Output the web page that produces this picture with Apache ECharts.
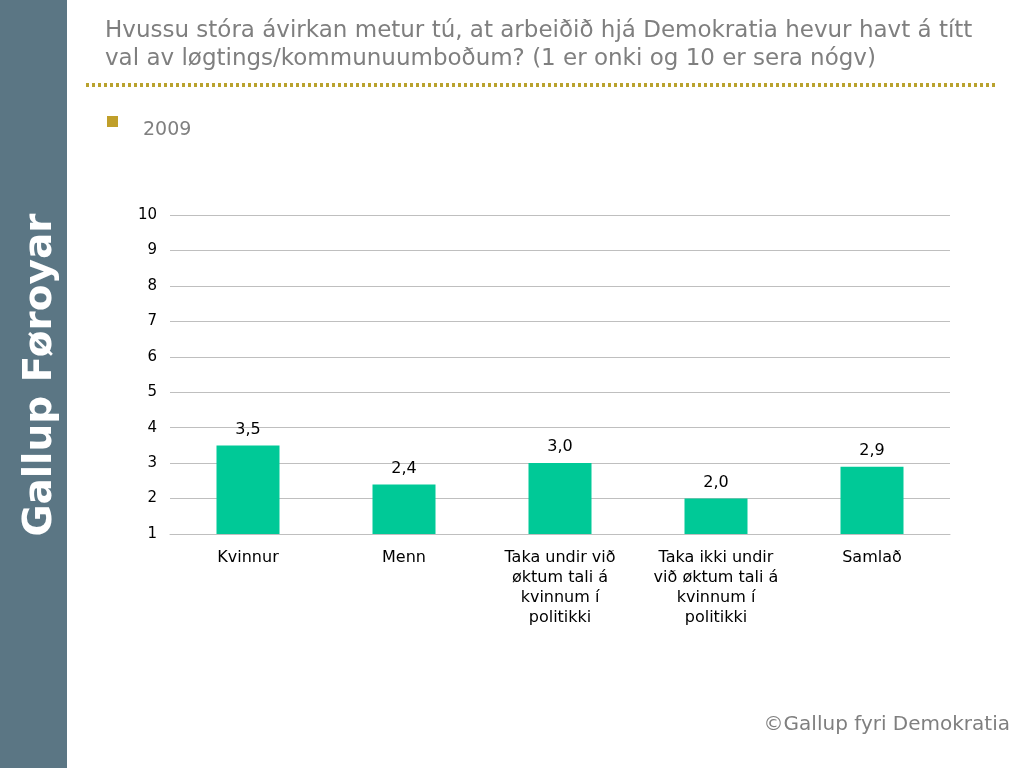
<!DOCTYPE html>
<html>
<head>
<meta charset="utf-8">
<script src="https://cdn.jsdelivr.net/npm/echarts@6/dist/echarts.min.js"></script>
<style>
html,body{margin:0;padding:0;background:#fff;}
#chart{width:1024px;height:768px;}
</style>
</head>
<body>
<div id="chart"></div>
<script>
var categories = [
  "Kvinnur",
  "Menn",
  "Taka undir við\nøktum tali á\nkvinnum í\npolitikki",
  "Taka ikki undir\nvið øktum tali á\nkvinnum í\npolitikki",
  "Samlað"
];
var values2009 = [3.5, 2.4, 3.0, 2.0, 2.9];
var seriesName = "2009";
var titleText = "Hvussu stóra ávirkan metur tú, at arbeiðið hjá Demokratia hevur havt á títt\nval av løgtings/kommunuumboðum? (1 er onki og 10 er sera nógv)";
var sidebarText = "Gallup Føroyar";
var footerText = "©Gallup fyri Demokratia";

var font = "DejaVu Sans, Verdana, sans-serif";
var chart = echarts.init(document.getElementById('chart'));
chart.setOption({
  animation: false,
  backgroundColor: '#ffffff',
  title: {
    text: titleText,
    left: 100, top: 12,
    textStyle: {fontFamily: font, fontSize: 23, fontWeight: 'normal', color: '#7f7f7f', lineHeight: 28}
  },
  grid: {left: 170, right: 74, top: 215, bottom: 234},
  xAxis: {
    type: 'category',
    data: categories,
    axisLine: {show: true, lineStyle: {color: '#bfbfbf', width: 1}},
    axisTick: {show: false},
    axisLabel: {fontFamily: font, fontSize: 16, color: '#000', lineHeight: 20, margin: 14, interval: 0}
  },
  yAxis: {
    type: 'value',
    min: 1, max: 10, interval: 1,
    axisLine: {show: false},
    axisTick: {show: false},
    axisLabel: {fontFamily: font, fontSize: 15, color: '#000', margin: 13},
    splitLine: {lineStyle: {color: '#bfbfbf', width: 1}}
  },
  series: [{
    name: seriesName,
    type: 'bar',
    data: values2009,
    barWidth: 63,
    itemStyle: {color: '#00C997'},
    label: {
      show: true, position: 'top', distance: 8,
      fontFamily: font, fontSize: 16, color: '#000',
      formatter: function(p){ return p.value.toFixed(1).replace('.', ','); }
    }
  }],
  graphic: [
    {type: 'rect', shape: {x: 0, y: 0, width: 67, height: 768}, style: {fill: '#5B7684'}},
    {type: 'text', x: 41, y: 375, rotation: Math.PI/2,
     style: {text: sidebarText, fill: '#ffffff', font: 'bold 39px ' + font, textAlign: 'center', textVerticalAlign: 'middle'}},
    {type: 'line', shape: {x1: 86, y1: 85, x2: 995, y2: 85},
     style: {stroke: '#B9A22E', lineWidth: 4, lineDash: [3, 3]}},
    {type: 'rect', shape: {x: 107, y: 116, width: 11, height: 11}, style: {fill: '#C09F2A'}},
    {type: 'text', x: 143, y: 130, style: {text: seriesName, fill: '#7f7f7f', font: '19px ' + font, textVerticalAlign: 'middle'}},
    {type: 'text', x: 1010, y: 725, style: {text: footerText, fill: '#7f7f7f', font: '20px ' + font, textAlign: 'right', textVerticalAlign: 'middle'}}
  ]
});
</script>
</body>
</html>
